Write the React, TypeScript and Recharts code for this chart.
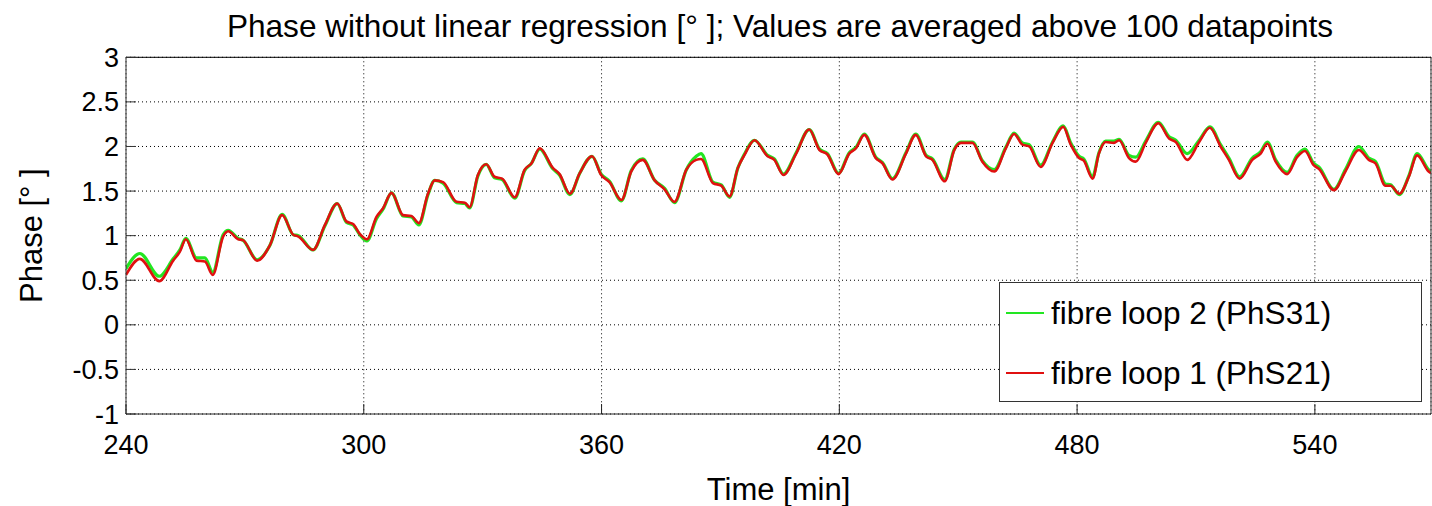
import { LineChart, Line, XAxis, YAxis, CartesianGrid, Legend } from "recharts";

// time axis in minutes
const TIMES = [
  240.0, 243.5, 248.4, 251.9, 253.6, 255.1, 257.8, 259.9, 261.9, 264.5,
  265.8, 268.3, 269.5, 273.1, 276.3, 279.4, 282.2, 283.5, 287.2, 290.2,
  293.3, 295.6, 297.3, 299.0, 300.8, 303.2, 304.9, 307.0, 309.9, 312.0,
  313.9, 316.2, 317.9, 320.0, 323.4, 325.5, 326.7, 328.8, 330.9, 333.0,
  334.9, 338.1, 340.6, 342.3, 344.4, 347.7, 349.4, 352.0, 354.5, 357.6,
  359.9, 362.0, 365.0, 367.5, 370.4, 373.4, 375.9, 378.4, 381.4, 383.9,
  385.1, 388.1, 390.2, 392.3, 394.4, 396.0, 398.6, 401.9, 403.6, 405.9,
  409.1, 412.4, 415.0, 417.0, 419.8, 422.5, 424.2, 426.3, 429.2, 430.9,
  433.4, 436.8, 439.3, 441.9, 443.5, 446.6, 449.0, 450.7, 453.6, 456.1,
  459.1, 462.0, 464.1, 466.2, 467.9, 470.8, 473.8, 476.5, 478.4, 480.5,
  481.7, 483.9, 485.5, 487.2, 489.3, 490.6, 493.1, 494.8, 497.3, 500.5,
  503.2, 504.9, 507.8, 510.8, 513.5, 516.2, 518.3, 521.0, 524.2, 526.3,
  528.0, 530.1, 533.0, 535.5, 537.5, 539.7, 541.0, 544.8, 547.7, 551.1,
  553.6, 555.3, 557.8, 559.1, 561.3, 563.7, 565.8, 568.7, 569.3,
];

// fibre loop 1 (PhS21), phase in degrees
const PHS21 = [
  0.56, 0.74, 0.49, 0.72, 0.82, 0.96, 0.72, 0.71, 0.56, 0.99,
  1.05, 0.96, 0.95, 0.72, 0.89, 1.23, 1.01, 0.99, 0.84, 1.12,
  1.36, 1.16, 1.13, 1.02, 0.96, 1.21, 1.31, 1.48, 1.23, 1.22,
  1.14, 1.47, 1.62, 1.60, 1.38, 1.37, 1.32, 1.68, 1.80, 1.66,
  1.64, 1.43, 1.74, 1.81, 1.98, 1.76, 1.69, 1.47, 1.70, 1.89,
  1.68, 1.60, 1.40, 1.72, 1.85, 1.62, 1.52, 1.38, 1.74, 1.85,
  1.86, 1.59, 1.56, 1.44, 1.76, 1.90, 2.07, 1.89, 1.85, 1.68,
  1.92, 2.19, 1.96, 1.91, 1.69, 1.92, 1.98, 2.13, 1.87, 1.81,
  1.63, 1.92, 2.13, 1.89, 1.85, 1.61, 1.96, 2.04, 2.04, 1.83,
  1.72, 1.98, 2.14, 2.02, 2.00, 1.77, 2.04, 2.22, 2.02, 1.87,
  1.84, 1.64, 1.92, 2.05, 2.04, 2.07, 1.87, 1.83, 2.04, 2.26,
  2.09, 2.05, 1.85, 2.05, 2.21, 2.00, 1.85, 1.64, 1.85, 1.92,
  2.03, 1.83, 1.69, 1.88, 1.95, 1.79, 1.75, 1.51, 1.72, 1.96,
  1.85, 1.81, 1.56, 1.56, 1.47, 1.66, 1.90, 1.72, 1.70,
];

// fibre loop 2 (PhS31), phase in degrees
const PHS31 = [
  0.63, 0.80, 0.545, 0.74, 0.84, 0.97, 0.75, 0.75, 0.59, 1.01,
  1.06, 0.97, 0.95, 0.73, 0.89, 1.24, 1.01, 1.00, 0.84, 1.11,
  1.36, 1.15, 1.12, 1.01, 0.94, 1.19, 1.30, 1.48, 1.22, 1.21,
  1.12, 1.46, 1.62, 1.59, 1.37, 1.36, 1.31, 1.67, 1.80, 1.65,
  1.63, 1.42, 1.73, 1.81, 1.97, 1.75, 1.68, 1.46, 1.70, 1.89,
  1.69, 1.61, 1.39, 1.73, 1.86, 1.62, 1.53, 1.37, 1.74, 1.89,
  1.92, 1.60, 1.57, 1.43, 1.76, 1.91, 2.07, 1.90, 1.86, 1.69,
  1.93, 2.19, 1.97, 1.92, 1.70, 1.93, 1.99, 2.14, 1.88, 1.82,
  1.64, 1.93, 2.14, 1.90, 1.86, 1.63, 1.97, 2.05, 2.05, 1.84,
  1.74, 1.99, 2.15, 2.04, 2.02, 1.79, 2.05, 2.23, 2.04, 1.89,
  1.86, 1.66, 1.93, 2.06, 2.06, 2.08, 1.90, 1.88, 2.06, 2.27,
  2.11, 2.07, 1.92, 2.07, 2.22, 2.02, 1.87, 1.66, 1.87, 1.94,
  2.05, 1.85, 1.71, 1.90, 1.97, 1.81, 1.77, 1.52, 1.74, 2.00,
  1.87, 1.83, 1.58, 1.57, 1.46, 1.67, 1.92, 1.74, 1.72,
];

const SERIES_NAMES = ["fibre loop 2 (PhS31)", "fibre loop 1 (PhS21)"];
const X_TICKS = [240, 300, 360, 420, 480, 540];
const Y_TICKS = [-1, -0.5, 0, 0.5, 1, 1.5, 2, 2.5, 3];
const X_DOMAIN: [number, number] = [240, 569.3];
const Y_DOMAIN: [number, number] = [-1, 3];

const GREEN = "#22e622";
const RED = "#e01010";
const FONT = "'Liberation Sans', Arial, Helvetica, sans-serif";

const data = TIMES.map((t, i) => ({ t, phs21: PHS21[i], phs31: PHS31[i] }));

// legend keeps plotting order: loop 2 first, then loop 1
function LegendBox({ payload }: any) {
  const items = [...(payload || [])].sort(
    (a: any, b: any) => SERIES_NAMES.indexOf(a.value) - SERIES_NAMES.indexOf(b.value)
  );
  return (
    <div
      style={{
        position: "relative",
        width: 423,
        height: 120,
        boxSizing: "border-box",
        border: "1px solid #333",
        background: "#fff",
        fontFamily: FONT,
      }}
    >
      {items.map((entry: any, i: number) => (
        <div
          key={entry.value}
          style={{
            position: "absolute",
            left: 6,
            top: 12 + i * 60,
            height: 36,
            display: "flex",
            alignItems: "center",
          }}
        >
          <span style={{ display: "inline-block", width: 38, height: 1.5, background: entry.color }} />
          <span style={{ marginLeft: 7, fontSize: 31.5, lineHeight: "36px", color: "#000", whiteSpace: "nowrap" }}>
            {entry.value}
          </span>
        </div>
      ))}
    </div>
  );
}

export default function App() {
  return (
    <div style={{ position: "absolute", left: 0, top: 0, width: 1432, height: 506, background: "#fff", fontFamily: FONT }}>
      <div
        style={{
          position: "absolute",
          left: 130,
          top: 7.5,
          width: 1300,
          textAlign: "center",
          fontSize: 31.6,
          lineHeight: "36px",
          color: "#000",
          whiteSpace: "nowrap",
        }}
      >
        Phase without linear regression [° ]; Values are averaged above 100 datapoints
      </div>
      <LineChart width={1432} height={506} data={data} margin={{ top: 56.3, right: 0, bottom: 0, left: 0 }}>
        <CartesianGrid stroke="#000" strokeDasharray="1 3" strokeWidth={1} />
        <XAxis
          dataKey="t"
          type="number"
          domain={X_DOMAIN}
          ticks={X_TICKS}
          allowDataOverflow
          height={92}
          tickSize={-10}
          tickMargin={31}
          stroke="#222"
          tick={{ fontSize: 27, fill: "#000", fontFamily: FONT }}
          label={{ value: "Time [min]", position: "insideBottom", offset: 6, fontSize: 31, fill: "#000", fontFamily: FONT }}
        />
        <XAxis
          xAxisId="top"
          orientation="top"
          type="number"
          domain={X_DOMAIN}
          ticks={X_TICKS}
          allowDataOverflow
          height={1}
          tickSize={-10}
          tick={false}
          stroke="#000"
        />
        <YAxis
          type="number"
          domain={Y_DOMAIN}
          ticks={Y_TICKS}
          allowDataOverflow
          width={126}
          tickSize={-10}
          tickMargin={17}
          stroke="#333"
          tick={{ fontSize: 27, fill: "#000", fontFamily: FONT }}
          label={{
            value: "Phase [° ]",
            angle: -90,
            position: "insideLeft",
            offset: 31,
            fontSize: 31,
            fill: "#000",
            fontFamily: FONT,
            style: { textAnchor: "middle" },
          }}
        />
        <YAxis
          yAxisId="right"
          orientation="right"
          type="number"
          domain={Y_DOMAIN}
          ticks={Y_TICKS}
          allowDataOverflow
          width={1}
          tickSize={-10}
          tick={false}
          stroke="#333"
        />
        <Legend
          layout="vertical"
          align="center"
          verticalAlign="middle"
          wrapperStyle={{ left: 999, top: 282, width: 423, height: 120 }}
          content={<LegendBox />}
        />
        <Line
          name="fibre loop 2 (PhS31)"
          dataKey="phs31"
          type="monotone"
          stroke={GREEN}
          strokeWidth={3.2}
          dot={false}
          activeDot={false}
          isAnimationActive={false}
        />
        <Line
          name="fibre loop 1 (PhS21)"
          dataKey="phs21"
          type="monotone"
          stroke={RED}
          strokeWidth={2.6}
          dot={false}
          activeDot={false}
          isAnimationActive={false}
        />
      </LineChart>
    </div>
  );
}
